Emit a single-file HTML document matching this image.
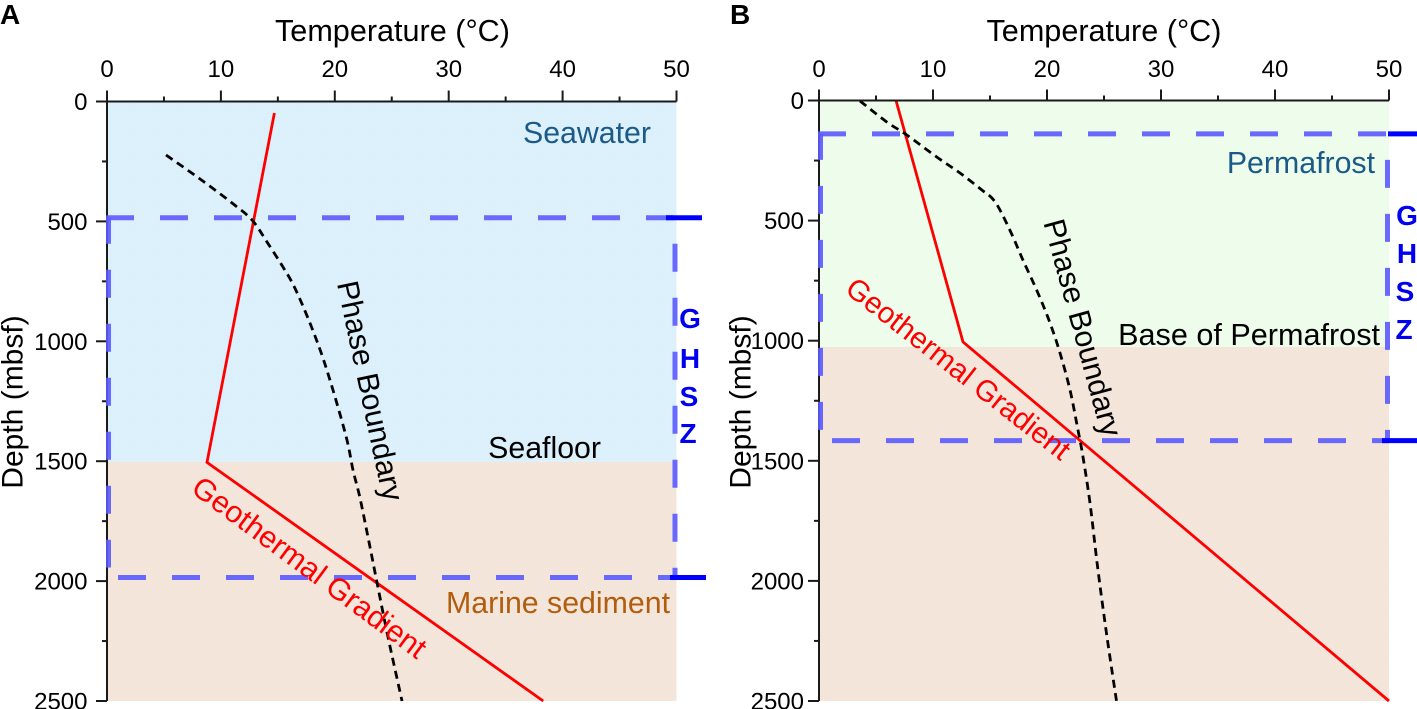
<!DOCTYPE html>
<html>
<head>
<meta charset="utf-8">
<title>Gas hydrate stability zone charts</title>
<style>
html,body{margin:0;padding:0;background:#fff;}
svg{display:block;font-family:"Liberation Sans",Arial,sans-serif;}
</style>
</head>
<body>
<svg id="chart" xmlns="http://www.w3.org/2000/svg" width="1417" height="709" viewBox="0 0 1417 709">
  <defs>
    <pattern id="stipple" width="3" height="3" patternUnits="userSpaceOnUse"><rect x="1" y="1" width="1" height="1" fill="#ffffff" fill-opacity="0.12"/></pattern>
  </defs>
  <g id="regions"></g>
  <g id="series"></g>
  <g id="axes"></g>
  <g id="ghsz"></g>
  <g id="labels" font-size="30.3">
    <text x="0" y="24" font-size="28" font-weight="bold">A</text>
    <text x="730" y="24" font-size="28" font-weight="bold">B</text>
    <text x="392.5" y="41" font-size="30.6" text-anchor="middle">Temperature (°C)</text>
    <text x="1104" y="41" font-size="30.6" text-anchor="middle">Temperature (°C)</text>
    <text transform="translate(22.5 402) rotate(-90)" font-size="30" text-anchor="middle">Depth (mbsf)</text>
    <text transform="translate(750.5 402) rotate(-90)" font-size="30" text-anchor="middle">Depth (mbsf)</text>
    <text x="651" y="143" fill="#1b5a88" text-anchor="end">Seawater</text>
    <text x="601" y="458" text-anchor="end">Seafloor</text>
    <text x="670" y="613" fill="#b25c0e" text-anchor="end">Marine sediment</text>
    <text x="1375" y="173" fill="#1b5a88" text-anchor="end">Permafrost</text>
    <text x="1380" y="345" font-size="30.6" text-anchor="end">Base of Permafrost</text>
    <text transform="translate(369.5 391) rotate(78)" font-size="30.3" text-anchor="middle" dominant-baseline="central">Phase Boundary</text>
    <text transform="translate(309 568) rotate(36.5)" fill="#ff0000" text-anchor="middle" dominant-baseline="central">Geothermal Gradient</text>
    <text transform="translate(1082 328) rotate(74.7)" font-size="30.3" text-anchor="middle" dominant-baseline="central">Phase Boundary</text>
    <text transform="translate(958 369) rotate(38)" font-size="29.5" fill="#ff0000" text-anchor="middle" dominant-baseline="central">Geothermal Gradient</text>
    <g fill="#0000ee" font-size="28" font-weight="bold" text-anchor="middle">
      <text x="690" y="328">G</text><text x="690" y="368">H</text><text x="689" y="406">S</text><text x="688" y="443">Z</text>
    </g>
    <g fill="#0000ee" font-size="28" font-weight="bold" text-anchor="middle">
      <text x="1407" y="225">G</text><text x="1407" y="263">H</text><text x="1405" y="301">S</text><text x="1404" y="339">Z</text>
    </g>
  </g>
</svg>
<script>
// Axis values
const tempTicks = [0, 10, 20, 30, 40, 50];
const tempMinorTicks = [5, 15, 25, 35, 45];
const depthTicks = [0, 500, 1000, 1500, 2000, 2500];
const depthMinorTicks = [250, 750, 1250, 1750, 2250];

// Panel A series
const aGeoTemp = [14.7, 8.78, 38.3];
const aGeoDepth = [48, 1505, 2500];
const aPhaseTemp = [5.18, 8.17, 10.97, 12.73, 14.05, 15.45, 16.5, 17.82, 18.96, 20.02, 21.07, 21.6, 22.21, 23.09, 23.71, 24.67, 25.9];
const aPhaseDepth = [223, 323, 423, 494, 586, 690, 778, 924, 1070, 1232, 1412, 1537, 1653, 1858, 2008, 2233, 2500];
const aSeafloorDepth = [1503];
const aGhszDepths = [485, 1985];

// Panel B series
const bGeoTemp = [6.75, 12.63, 50];
const bGeoDepth = [0, 1005, 2500];
const bPhaseTemp = [3.6, 5.96, 7.72, 10.44, 12.37, 14.3, 15.17, 15.88, 17.02, 17.89, 19.2, 20.26, 21.14, 22.02, 22.72, 23.16, 23.77, 24.47, 25.26, 26.1];
const bPhaseDepth = [2, 90, 144, 239, 302, 373, 406, 456, 568, 664, 801, 926, 1051, 1205, 1372, 1484, 1676, 1955, 2233, 2500];
const bPermafrostDepth = [1026];
const bGhszDepths = [139, 1416];

const NS = 'http://www.w3.org/2000/svg';
function mk(parent, tag, attrs, text) {
  const el = document.createElementNS(NS, tag);
  for (const k in attrs) el.setAttribute(k, attrs[k]);
  if (text !== undefined) el.textContent = text;
  document.getElementById(parent).appendChild(el);
  return el;
}
function axisFns(left, right, top, bottom) {
  return {
    x: t => left + (t / 50) * (right - left),
    y: d => top + (d / 2500) * (bottom - top)
  };
}
function pathFrom(ts, ds, ax) {
  return ts.map((t, i) => (i ? 'L' : 'M') + ax.x(t).toFixed(1) + ' ' + ax.y(ds[i]).toFixed(1)).join(' ');
}
function smoothFrom(ts, ds, ax) {
  const p = ts.map((t, i) => [ax.x(t), ax.y(ds[i])]);
  let s = 'M' + p[0][0].toFixed(1) + ' ' + p[0][1].toFixed(1);
  for (let i = 0; i < p.length - 1; i++) {
    const a = p[Math.max(i - 1, 0)], b = p[i], c = p[i + 1], d = p[Math.min(i + 2, p.length - 1)];
    s += ' C' + (b[0] + (c[0] - a[0]) / 6).toFixed(1) + ' ' + (b[1] + (c[1] - a[1]) / 6).toFixed(1) + ' ' +
      (c[0] - (d[0] - b[0]) / 6).toFixed(1) + ' ' + (c[1] - (d[1] - b[1]) / 6).toFixed(1) + ' ' +
      c[0].toFixed(1) + ' ' + c[1].toFixed(1);
  }
  return s;
}
function drawAxes(prefix, ax, labelGap) {
  const axisColor = '#1a1a1a';
  const top = ax.y(0), left = ax.x(0);
  let line = mk('axes', 'line', {x1: left, x2: ax.x(50), y1: top, y2: top, stroke: axisColor, 'stroke-width': 2});
  
  
  line = mk('axes', 'line', {x1: left, x2: left, y1: top, y2: ax.y(2500), stroke: axisColor, 'stroke-width': 2});
  
  
  tempTicks.forEach(t => {
    const tick = mk('axes', 'line', {x1: ax.x(t), x2: ax.x(t), y1: top - 11, y2: top, stroke: axisColor, 'stroke-width': 2});
    
    
    const lab = mk('axes', 'text', {x: ax.x(t), y: 77, 'font-size': 24, 'text-anchor': 'middle'}, String(t));
    
    
  });
  tempMinorTicks.forEach(t => {
    const tick = mk('axes', 'line', {x1: ax.x(t), x2: ax.x(t), y1: top - 5, y2: top, stroke: axisColor, 'stroke-width': 2});
    
    
  });
  depthTicks.forEach(d => {
    const tick = mk('axes', 'line', {x1: left - 11, x2: left, y1: ax.y(d), y2: ax.y(d), stroke: axisColor, 'stroke-width': 2});
    
    
    const lab = mk('axes', 'text', {x: left - labelGap, y: ax.y(d) + 8.5, 'font-size': 24, 'text-anchor': 'end'}, String(d));
    
    
  });
  depthMinorTicks.forEach(d => {
    const tick = mk('axes', 'line', {x1: left - 5, x2: left, y1: ax.y(d), y2: ax.y(d), stroke: axisColor, 'stroke-width': 2});
    
    
  });
}
function region(name, ax, d0, d1, fill) {
  const attrs = {x: ax.x(0), y: ax.y(d0), width: ax.x(50) - ax.x(0), height: ax.y(d1) - ax.y(d0)};
  const r = mk('regions', 'rect', Object.assign({fill: fill}, attrs));
  
  
  mk('regions', 'rect', Object.assign({fill: 'url(#stipple)'}, attrs));
}
function drawSeries(prefix, ax, geoT, geoD, phT, phD) {
  const geo = mk('series', 'path', {d: pathFrom(geoT, geoD, ax), fill: 'none', stroke: '#ff0000', 'stroke-width': 2.8});
  
  
  const ph = mk('series', 'path', {d: smoothFrom(phT, phD, ax), fill: 'none', stroke: '#000000', 'stroke-width': 2.8, 'stroke-dasharray': '8 5.3'});
  
  
}
function drawGhsz(prefix, ax, depths, tops, inset, solidTop, solidBottom) {
  const yt = ax.y(depths[0]), yb = ax.y(depths[1]);
  const xl = ax.x(0) + inset, xr = ax.x(50) - inset;
  const style = {stroke: '#5a5aff', 'stroke-opacity': 0.9, 'stroke-width': 5, 'stroke-dasharray': '28 26', fill: 'none'};
  const segs = [
    ['top', ax.x(0) - 1, yt, ax.x(50), yt, tops[0]],
    ['bottom', ax.x(0), yb, ax.x(50), yb, tops[1]],
    ['left', xl, yt, xl, yb - 10, 2],
    ['right', xr, yt, xr, yb, 28]
  ];
  segs.forEach(s => {
    const l = mk('ghsz', 'line', Object.assign({x1: s[1], y1: s[2], x2: s[3], y2: s[4], 'stroke-dashoffset': s[5]}, style));
    
    
  });
  const a = mk('ghsz', 'line', {x1: solidTop[0], x2: solidTop[1], y1: yt, y2: yt, stroke: '#0000ff', 'stroke-width': 5});
  
  
  const b = mk('ghsz', 'line', {x1: solidBottom[0], x2: solidBottom[1], y1: yb, y2: yb, stroke: '#0000ff', 'stroke-width': 5});
  
  
}

const axA = axisFns(107, 676.5, 101.5, 701);
const axB = axisFns(819, 1389, 100.5, 701);

region('seawater-region', axA, 0, aSeafloorDepth[0], '#dcf0fb');
region('panel-a-sediment-region', axA, aSeafloorDepth[0], 2500, '#f4e5db');
region('permafrost-region', axB, 0, bPermafrostDepth[0], '#eefdeb');
region('panel-b-sediment-region', axB, bPermafrostDepth[0], 2500, '#f4e5db');

drawSeries('panel-a', axA, aGeoTemp, aGeoDepth, aPhaseTemp, aPhaseDepth);
drawSeries('panel-b', axB, bGeoTemp, bGeoDepth, bPhaseTemp, bPhaseDepth);

drawAxes('panel-a', axA, 19.5);
drawAxes('panel-b', axB, 15);

drawGhsz('panel-a', axA, aGhszDepths, [0, 43], 1.5, [666, 702], [670, 706]);
drawGhsz('panel-b', axB, bGhszDepths, [0, 41], 1.5, [1388, 1417], [1382, 1417]);
</script>
</body>
</html>
